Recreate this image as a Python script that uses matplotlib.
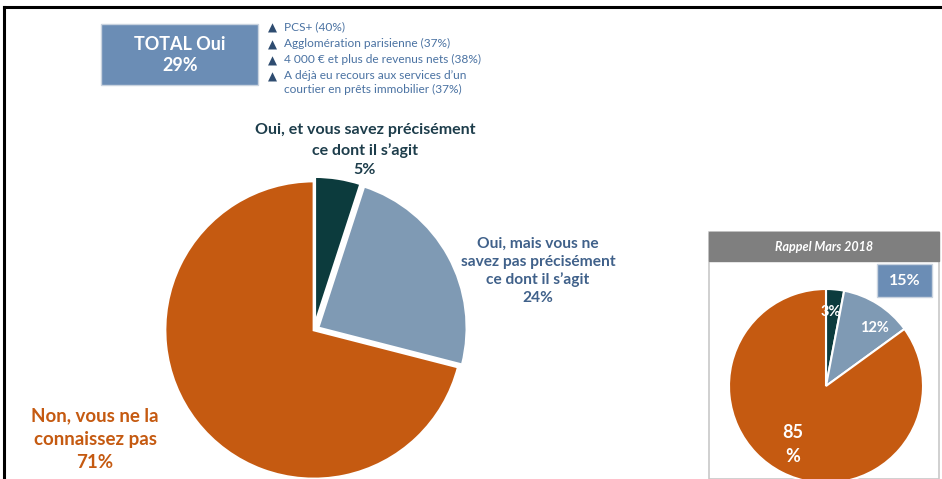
import matplotlib.pyplot as plt
from matplotlib.patches import Rectangle
from matplotlib.lines import Line2D

# main pie: current wave
main_labels = ["Oui, et vous savez précisément\nce dont il s\u2019agit",
               "Oui, mais vous ne\nsavez pas précisément\nce dont il s\u2019agit",
               "Non, vous ne la\nconnaissez pas"]
main_values = [5, 24, 71]

# small pie: Rappel Mars 2018
prev_values = [3, 12, 85]
prev_labels = ["3%", "12%", "85\n%"]

total_oui = 29
prev_total_oui = 15

bullets = ["PCS+ (40%)",
           "Agglomération parisienne (37%)",
           "4 000 \u20ac et plus de revenus nets (38%)",
           "A déjà eu recours aux services d\u2019un\ncourtier en prêts immobilier (37%)"]

colors = ["#0c3b3d", "#7f9ab4", "#c55a11"]
label_colors = ["#1d3d4b", "#40618a", "#c55a11"]

W, H = 942, 479
plt.rcParams['font.family'] = ['Lato', 'DejaVu Sans']
fig = plt.figure(figsize=(W / 100, H / 100), dpi=100)


def fx(x):
    return x / W


def fy(y):
    return 1 - y / H


def px_axes(cx, cy, r):
    return fig.add_axes([fx(cx - r), fy(cy + r), 2 * r / W, 2 * r / H])


# frame lines
fig.add_artist(Line2D([fx(4), 1], [fy(7), fy(7)], color="black", lw=2.2))
fig.add_artist(Line2D([fx(4), fx(4)], [fy(7), 0], color="black", lw=2.2))

# main pie
ax = px_axes(314, 330, 149)
ax.pie(main_values, colors=colors, startangle=90, counterclock=False,
       explode=[0.03, 0.03, 0], radius=1,
       wedgeprops=dict(edgecolor="white", linewidth=2))
ax.set_xlim(-1, 1)
ax.set_ylim(-1, 1)

# main labels
fig.text(fx(365), fy(150), main_labels[0] + "\n%d%%" % main_values[0],
         ha="center", va="center", fontsize=11.5, fontweight="bold",
         color=label_colors[0], linespacing=1.45)
fig.text(fx(538), fy(271), main_labels[1] + "\n%d%%" % main_values[1],
         ha="center", va="center", fontsize=11.2, fontweight="bold",
         color=label_colors[1], linespacing=1.32)
fig.text(fx(95), fy(439), main_labels[2] + "\n%d%%" % main_values[2],
         ha="center", va="center", fontsize=13.5, fontweight="bold",
         color=label_colors[2], linespacing=1.45)

# TOTAL Oui box
fig.add_artist(Rectangle((fx(101), fy(85)), fx(157), 61 / H,
                         transform=fig.transFigure, facecolor="#6b8db5",
                         edgecolor="#c9d3df", lw=1))
fig.text(fx(180), fy(55), "TOTAL Oui\n%d%%" % total_oui, ha="center",
         va="center", fontsize=13, fontweight="bold", color="white",
         linespacing=1.25)

# bullets
ys = [28, 45, 61, 77]
for y, b in zip(ys, bullets):
    fig.text(fx(272), fy(y), "\u25b2", ha="center", va="center",
             fontsize=8.5, color="#2e4c70", family="DejaVu Sans")
    fig.text(fx(284), fy(y - 7), b, ha="left", va="top", fontsize=8.6,
             color="#4a72a2", linespacing=1.35)

# Rappel Mars 2018 panel
fig.add_artist(Rectangle((fx(709), 0), fx(230), (H - 232) / H,
                         transform=fig.transFigure, facecolor="white",
                         edgecolor="#c8c8c8", lw=1.2, zorder=-1))
fig.add_artist(Rectangle((fx(709), fy(261)), fx(230), 29 / H,
                         transform=fig.transFigure, facecolor="#7f7f7f",
                         edgecolor="#7f7f7f", lw=1))
fig.text(fx(824), fy(247), "Rappel Mars 2018", ha="center", va="center",
         fontsize=9, fontweight="bold", style="italic", color="white")

ax2 = px_axes(826, 386, 97)
ax2.set_zorder(2)
ax2.pie(prev_values, colors=colors, startangle=90, counterclock=False,
        radius=1, wedgeprops=dict(edgecolor="white", linewidth=1.5))
ax2.set_xlim(-1, 1)
ax2.set_ylim(-1, 1)
# slice labels
ax2.text(0.05, 0.76, prev_labels[0], ha="center", va="center",
         fontsize=10.5, fontweight="bold", color="white")
ax2.text(0.5, 0.6, prev_labels[1], ha="center", va="center",
         fontsize=10.5, color="white", fontweight="bold")
ax2.text(-0.34, -0.6, prev_labels[2], ha="center", va="center",
         fontsize=13, fontweight="bold", color="white", linespacing=1.5)

fig.add_artist(Rectangle((fx(877), fy(297)), fx(55), 33 / H,
                         transform=fig.transFigure, facecolor="#6b8db5",
                         edgecolor="#c9d3df", lw=1, zorder=3))
fig.text(fx(905), fy(281), "%d%%" % prev_total_oui, ha="center",
         va="center", fontsize=11.5, fontweight="bold", color="white",
         zorder=4)

fig.savefig("out.png", dpi=100)
